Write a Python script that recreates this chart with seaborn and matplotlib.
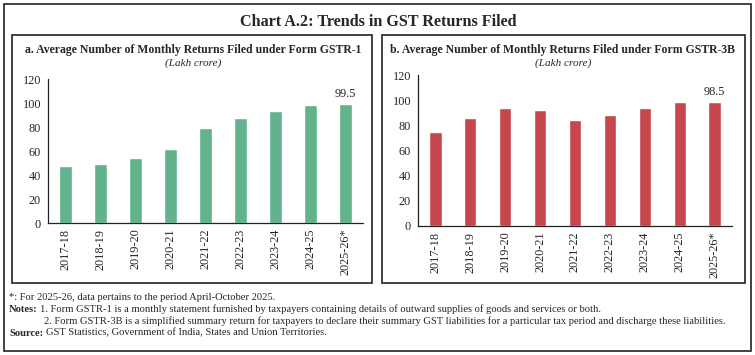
import matplotlib
matplotlib.use("Agg")
import matplotlib.pyplot as plt
import seaborn as sns
import pandas as pd
from matplotlib.patches import Rectangle

# data
years = ['2017-18', '2018-19', '2019-20', '2020-21', '2021-22',
         '2022-23', '2023-24', '2024-25', '2025-26*']
gstr1 = [47.5, 49.4, 54.2, 61.4, 79.4, 87.5, 93.6, 98.0, 99.5]
gstr3b = [74.7, 86.1, 93.5, 92.2, 84.0, 87.9, 93.5, 98.3, 98.5]
yticks = [0, 20, 40, 60, 80, 100, 120]

sns.set_style("white")
plt.rcParams['font.family'] = ['Liberation Serif', 'DejaVu Serif']

fig = plt.figure(figsize=(7.55, 3.55), dpi=100)
W, H = 755, 355


def px(x0, y0, x1, y1):
    # pixel box (top-left origin) -> figure fraction rect
    return [x0 / W, 1 - y1 / H, (x1 - x0) / W, (y1 - y0) / H]


def box(x0, y0, x1, y1, lw=1.2):
    r = px(x0, y0, x1, y1)
    fig.patches.append(Rectangle((r[0], r[1]), r[2], r[3], transform=fig.transFigure,
                                 fill=False, edgecolor='#222222', linewidth=lw))


box(4, 4, 751, 351)
box(12, 35, 372, 283)
box(382, 35, 745, 283)

fig.text(378 / W, 1 - 22 / H, 'Chart A.2: Trends in GST Returns Filed',
         ha='center', va='center', fontsize=11.6, fontweight='bold')


def panel(rect, vals, color, title, title_x, last_label):
    ax = fig.add_axes(rect)
    df = pd.DataFrame({'year': years, 'val': vals})
    sns.barplot(data=df, x='year', y='val', color=color, width=0.35,
                saturation=1, ax=ax)
    ax.set_xlim(-0.5, len(years) - 0.5)
    ax.set_ylim(0, 120)
    ax.set_yticks(yticks)
    ax.set_xlabel('')
    ax.set_ylabel('')
    for s in ['top', 'right']:
        ax.spines[s].set_visible(False)
    for s in ['left', 'bottom']:
        ax.spines[s].set_color('#222222')
        ax.spines[s].set_linewidth(0.9)
    ax.set_xticks(range(len(years)))
    ax.set_xticklabels(years, rotation=90)
    ax.set_xticks([i - 0.5 for i in range(len(years) + 1)], minor=True)
    ax.tick_params(axis='x', which='major', length=0, labelsize=8.8, pad=4)
    ax.tick_params(axis='x', which='minor', length=4, width=0.8, direction='out')
    ax.tick_params(axis='y', length=3, width=0.8, direction='out', labelsize=8.8, pad=2)
    ax.text(len(years) - 1, vals[-1] + 3, last_label, ha='center', va='bottom', fontsize=8.8)
    fig.text(title_x, 1 - 50 / H, title, ha='center', va='center',
             fontsize=8.5, fontweight='bold')
    fig.text(title_x, 1 - 63 / H, '(Lakh crore)', ha='center', va='center',
             fontsize=8, style='italic')
    return ax


panel(px(48, 79, 363, 223), gstr1, '#62b28d',
      'a. Average Number of Monthly Returns Filed under Form GSTR-1', 193 / W, '99.5')
panel(px(418, 75, 732, 226), gstr3b, '#c8464b',
      'b. Average Number of Monthly Returns Filed under Form GSTR-3B', 563 / W, '98.5')

fs = 7.6
fig.text(9 / W, 1 - 297 / H, '*: For 2025-26, data pertains to the period April-October 2025.',
         fontsize=fs, va='center')
fig.text(9 / W, 1 - 309 / H, 'Notes:', fontsize=fs, va='center', fontweight='bold')
fig.text(40 / W, 1 - 309 / H,
         '1. Form GSTR-1 is a monthly statement furnished by taxpayers containing details '
         'of outward supplies of goods and services or both.', fontsize=fs, va='center')
fig.text(44 / W, 1 - 321 / H,
         '2. Form GSTR-3B is a simplified summary return for taxpayers to declare their summary '
         'GST liabilities for a particular tax period and discharge these liabilities.',
         fontsize=fs, va='center')
fig.text(9 / W, 1 - 333 / H, 'Source:', fontsize=fs, va='center', fontweight='bold')
fig.text(46 / W, 1 - 333 / H,
         'GST Statistics, Government of India, States and Union Territories.',
         fontsize=fs, va='center')

fig.savefig('out.png', dpi=100)
